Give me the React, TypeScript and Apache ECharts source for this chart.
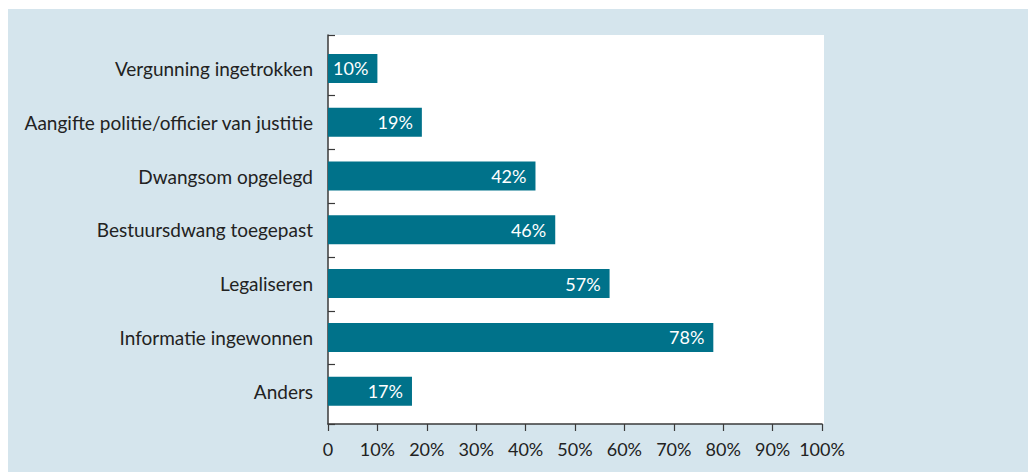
import React, { useEffect, useRef } from "react";
import * as echarts from "echarts";

const categories = [
  "Vergunning ingetrokken",
  "Aangifte politie/officier van justitie",
  "Dwangsom opgelegd",
  "Bestuursdwang toegepast",
  "Legaliseren",
  "Informatie ingewonnen",
  "Anders",
];
const values = [10, 19, 42, 46, 57, 78, 17];
const xMin = 0;
const xMax = 100;
const xInterval = 10;

const FONT = "Lato";
const BAR_COLOR = "#00728a";
const BG = "#d5e5ed";
const AXIS = "#3a3a3a";
const TEXT = "#222222";

export default function App() {
  const ref = useRef<HTMLDivElement>(null);
  useEffect(() => {
    if (!ref.current) return;
    const chart = echarts.init(ref.current, undefined, { renderer: "svg" });
    const gridLeft = 320;
    const gridWidth = 494;
    const frameTop = 26;
    const frameHeight = 389;
    chart.setOption({
      animation: false,
      backgroundColor: BG,
      grid: [
        { left: gridLeft, top: frameTop, width: gridWidth, height: frameHeight, containLabel: false },
        { left: gridLeft, top: 32.5, width: gridWidth, height: 376.6, containLabel: false },
      ],
      graphic: [
        {
          id: "frame",
          type: "rect",
          z: -10,
          silent: true,
          shape: { x: gridLeft, y: frameTop, width: gridWidth + 2, height: frameHeight },
          style: { fill: "#ffffff" },
        },
      ],
      xAxis: [
        {
          gridIndex: 0,
          type: "value",
          min: xMin,
          max: xMax,
          interval: xInterval,
          axisLine: { show: true, lineStyle: { color: AXIS, width: 1.5 } },
          axisTick: { show: true, length: 7, lineStyle: { color: AXIS, width: 1.2 } },
          splitLine: { show: false },
          axisLabel: {
            margin: 16,
            fontFamily: FONT,
            fontSize: 18,
            color: TEXT,
            formatter: (v: number) => (v === 0 ? "0" : v + "%"),
          },
        },
        {
          gridIndex: 1,
          type: "value",
          min: xMin,
          max: xMax,
          show: false,
        },
      ],
      yAxis: [
        {
          gridIndex: 0,
          type: "value",
          min: 0,
          max: 1,
          axisLine: { show: true, onZero: false, lineStyle: { color: AXIS, width: 1.5 } },
          axisTick: { show: false },
          axisLabel: { show: false },
          splitLine: { show: false },
        },
        {
          gridIndex: 1,
          type: "category",
          data: categories,
          inverse: true,
          axisLine: { show: false },
          axisTick: { show: false },
          splitLine: { show: false },
          axisLabel: {
            margin: 15,
            fontFamily: FONT,
            fontSize: 19,
            color: TEXT,
          },
        },
      ],
      series: [
        {
          type: "bar",
          xAxisIndex: 1,
          yAxisIndex: 1,
          data: values,
          barWidth: 29,
          itemStyle: { color: BAR_COLOR },
          label: {
            show: true,
            position: "insideRight",
            distance: 9,
            formatter: "{c}%",
            color: "#ffffff",
            fontFamily: FONT,
            fontSize: 18,
          },
        },
      ],
    });

    // y-axis tick marks at category boundaries (computed from the category scale)
    const centers = categories.map(
      (c) => chart.convertToPixel({ yAxisIndex: 1 }, c) as number
    );
    const x0 = chart.convertToPixel({ xAxisIndex: 0 }, 0) as number;
    const tickYs: number[] = [frameTop];
    for (let i = 0; i < centers.length - 1; i++) {
      tickYs.push((centers[i] + centers[i + 1]) / 2);
    }
    tickYs.push(frameTop + frameHeight);
    chart.setOption({
      graphic: [
        {
          id: "frame",
          type: "rect",
          z: -10,
          silent: true,
          shape: { x: gridLeft, y: frameTop, width: gridWidth + 2, height: frameHeight },
          style: { fill: "#ffffff" },
        },
        ...tickYs.map((y, i) => ({
          id: "ytick" + i,
          type: "line",
          silent: true,
          z: 10,
          shape: { x1: x0, y1: Math.round(y) + 0.5, x2: x0 + 7, y2: Math.round(y) + 0.5 },
          style: { stroke: AXIS, lineWidth: 1.2 },
        })),
      ],
    });

    return () => chart.dispose();
  }, []);
  return (
    <div
      ref={ref}
      style={{ position: "fixed", left: 8, top: 9, width: 1020, height: 463 }}
    />
  );
}
